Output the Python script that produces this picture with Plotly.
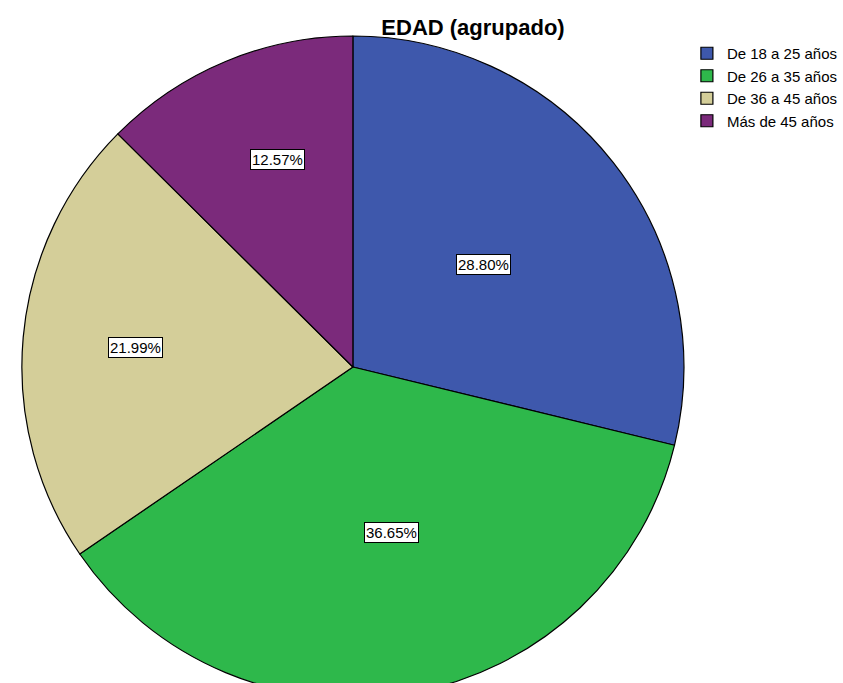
import math
import plotly.graph_objects as go

categories = ["De 18 a 25 años", "De 26 a 35 años", "De 36 a 45 años", "Más de 45 años"]
percentages = [28.80, 36.65, 21.99, 12.57]
label_texts = ["28.80%", "36.65%", "21.99%", "12.57%"]

colors = ["#3E58AC", "#2EB84B", "#D4CE99", "#7B2A7B"]
label_radial = [0.50, 0.51, 0.66, 0.665]
label_angle_shift = [0.0, -3.0, 0.0, 2.5]  # degrees, small placement tweak

W, H = 843, 720
CX, CY, R = 355, 367, 333  # px from left/top

fig = go.Figure()
fig.add_trace(go.Pie(
    labels=categories, values=percentages, sort=False,
    direction="clockwise", rotation=0,
    marker=dict(colors=colors, line=dict(color="black", width=1.2)),
    textinfo="none", hoverinfo="label+percent",
    domain=dict(x=[(CX - R) / W, (CX + R) / W], y=[(H - CY - R) / H, (H - CY + R) / H]),
))

total = sum(percentages)
cum = 0.0
for v, txt, f, da in zip(percentages, label_texts, label_radial, label_angle_shift):
    mid = (cum + v / 2) / total * 2 * math.pi + math.radians(da)
    cum += v
    px = CX + f * R * math.sin(mid)
    py = CY - f * R * math.cos(mid)
    fig.add_annotation(
        x=px / W, y=(H - py) / H, xref="paper", yref="paper",
        xanchor="center", yanchor="middle",
        text=txt, showarrow=False,
        font=dict(family="Liberation Sans, Arial", size=15, color="black"),
        bgcolor="white", bordercolor="black", borderwidth=1, borderpad=1,
    )

fig.update_layout(
    width=W, height=H,
    margin=dict(l=0, r=0, t=0, b=0),
    paper_bgcolor="white", plot_bgcolor="white",
    title=dict(text="<b>EDAD (agrupado)</b>", x=473 / W, xanchor="center",
               y=(H - 27) / H, yanchor="middle",
               font=dict(family="Liberation Sans, Arial", size=22, color="black")),
    legend=dict(x=691 / W, y=(H - 37) / H, xanchor="left", yanchor="top",
                font=dict(family="Liberation Sans, Arial", size=15, color="black"),
                tracegroupgap=0, itemwidth=30, bgcolor="rgba(0,0,0,0)"),
    showlegend=True,
)

fig.write_html("out.html", config={"displayModeBar": False},
               post_script="document.body.style.margin='0';document.body.style.overflow='hidden';")
